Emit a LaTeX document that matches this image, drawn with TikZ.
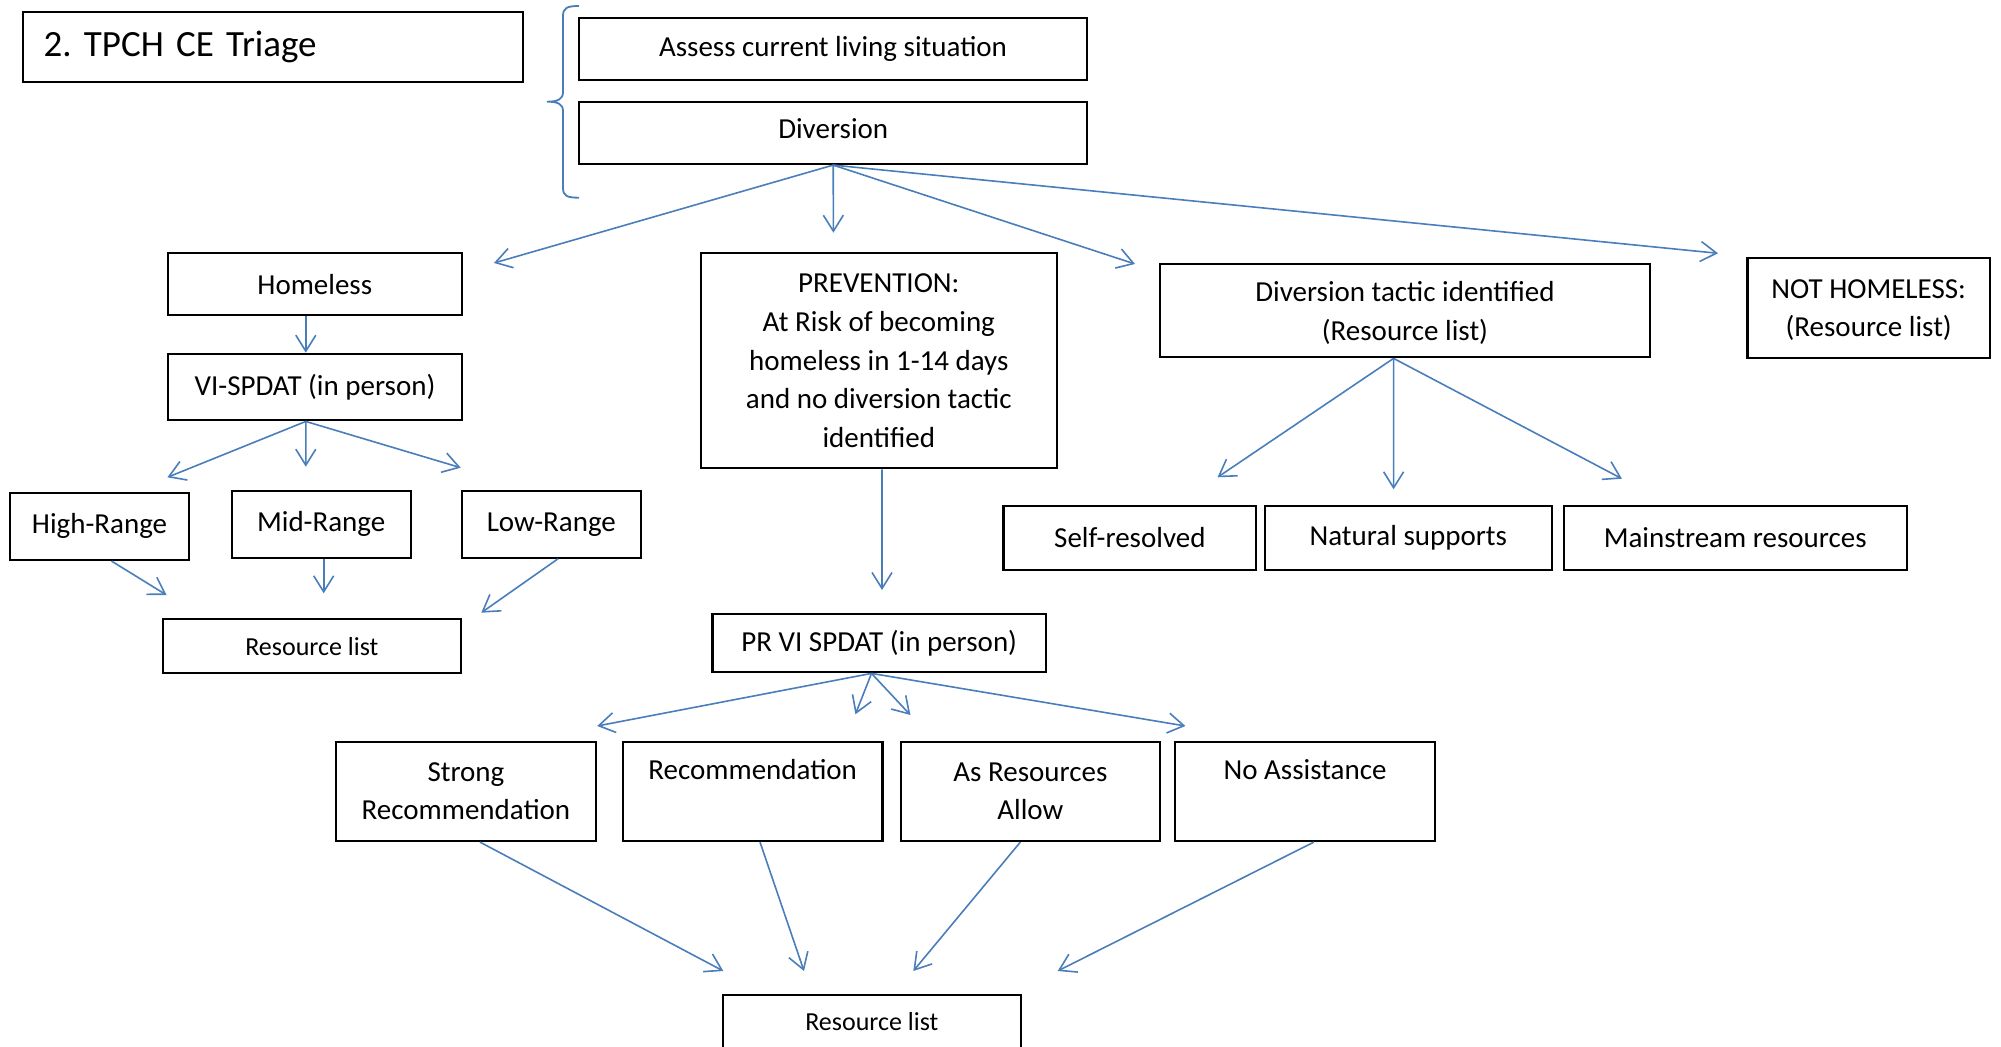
\documentclass[tikz,border=0pt]{standalone}
\usepackage{fontspec}
\setmainfont{Carlito}
\usetikzlibrary{arrows.meta,calc}
\definecolor{lnblue}{HTML}{4A7EBB}
\frenchspacing
\begin{document}
\begin{tikzpicture}[x=0.5pt,y=-0.5pt,
  box/.style={draw=black, line width=1.1pt, inner sep=0pt, align=center,
    font=\fontsize{14.5}{19.3}\selectfont},
  smalltext/.style={font=\fontsize{13}{16}\selectfont},
  conn/.style={draw=lnblue, line width=0.8pt, -{Straight Barb[length=8pt,width=10pt]}},
  bracel/.style={draw=lnblue, line width=0.9pt},
]
\useasboundingbox (0,0) rectangle (2001,1047);
\clip (0,0) rectangle (2001,1047);

% title
\node[box, minimum width=249.8pt, minimum height=35.15pt, text width=229.3pt,
  align=left, inner xsep=10.25pt, font=\fontsize{18.5}{22}\selectfont\frenchspacing]
  (title) at (272.8,46.9) {2. TPCH CE Triage};

% brace
\draw[bracel] (579,6) .. controls (567,6) and (563,8) .. (563,16) -- (563,92)
  .. controls (563,99) and (558,101.7) .. (547,101.7)
  .. controls (558,101.7) and (563,104) .. (563,111) -- (563,188)
  .. controls (563,196) and (567,197.7) .. (579,197.7);

% top boxes
\node[box, minimum width=254pt, minimum height=31.15pt] (assess) at (833,48.85) {Assess current living situation};
\node[box, minimum width=254pt, minimum height=31.15pt, text depth=4pt] (diversion) at (833.2,132.85) {Diversion};

% left branch
\node[box, minimum width=146.8pt, minimum height=31pt] (homeless) at (314.8,284.3) {Homeless};
\node[box, minimum width=146.65pt, minimum height=33.15pt] (vispdat) at (315,387.2) {VI-SPDAT (in person)};
\node[box, minimum width=89.75pt, minimum height=33.65pt] (high) at (99.55,526.35) {High-Range};
\node[box, minimum width=89.5pt, minimum height=33.5pt] (mid) at (321.2,524.2) {Mid-Range};
\node[box, minimum width=89.7pt, minimum height=33.5pt] (low) at (551.3,524.2) {Low-Range};
\node[box, smalltext, minimum width=148.85pt, minimum height=27.15pt] (resA) at (311.85,646.15) {Resource list};

% prevention branch
\node[box, minimum width=177.8pt, minimum height=107.5pt] (prev) at (878.8,360.8)
  {PREVENTION:\\At Risk of becoming\\homeless in 1-14 days\\and no diversion tactic\\identified};
\node[box, minimum width=166.8pt, minimum height=29.15pt] (prvi) at (879.2,643.15) {PR VI SPDAT (in person)};
\node[box, minimum width=129.85pt, minimum height=49.65pt] (strong) at (465.95,791.35) {Strong\\Recommendation};
\node[box, minimum width=129.8pt, minimum height=49.65pt] (recom) at (752.7,791.35) {Recommendation\\\vphantom{Ag}};
\node[box, minimum width=129.45pt, minimum height=49.65pt] (asres) at (1030.35,791.35) {As Resources\\Allow};
\node[box, minimum width=129.8pt, minimum height=49.65pt] (noassist) at (1305,791.35) {No Assistance\\\vphantom{Ag}};
\node[box, smalltext, minimum width=149.15pt, minimum height=27pt] (resB) at (871.85,1022) {Resource list};

% diversion tactic branch
\node[box, minimum width=244.75pt, minimum height=46.65pt] (tactic) at (1404.95,310.65) {\vphantom{Ag}\\[-16pt]Diversion tactic identified\\(Resource list)};
\node[box, minimum width=121.3pt, minimum height=49.7pt] (nothome) at (1868.7,308) {\vphantom{Ag}\\[-17pt]NOT HOMELESS:\\(Resource list)};
\node[box, minimum width=126.35pt, minimum height=32.15pt] (selfres) at (1129.85,537.85) {Self-resolved};
\node[box, minimum width=143.6pt, minimum height=32.15pt] (natural) at (1408.3,537.85) {Natural supports};
\node[box, minimum width=171.45pt, minimum height=32.15pt] (mainstream) at (1735.15,537.85) {Mainstream resources};

% arrow end points
\coordinate (tHome) at (494,263);
\coordinate (tPrev) at (833.4,232.7);
\coordinate (tTactic) at (1135,264);
\coordinate (tNot) at (1718,253.3);
\coordinate (tVi) at (305.8,352.7);
\coordinate (tHigh) at (167.4,477.3);
\coordinate (tMid) at (305.8,466.7);
\coordinate (tLow) at (460.7,467.7);
\coordinate (tRA1) at (166.5,595);
\coordinate (tRA2) at (323.7,593.3);
\coordinate (tRA3) at (481.3,612.7);
\coordinate (tPr) at (882,590);
\coordinate (tSelf) at (1217.5,477.3);
\coordinate (tNat) at (1393.6,489.3);
\coordinate (tMain) at (1621.9,478.7);
\coordinate (tS1) at (597.2,726);
\coordinate (tS2) at (855.4,714.3);
\coordinate (tS3) at (910.4,715);
\coordinate (tS4) at (1185.4,726);
\coordinate (tB1) at (723.3,971);
\coordinate (tB2) at (804,971);
\coordinate (tB3) at (913.3,971);
\coordinate (tB4) at (1057.7,971);

% connectors
\draw[conn] (diversion.south) -- (tHome);
\draw[conn] (diversion.south) -- (tPrev);
\draw[conn] (diversion.south) -- (tTactic);
\draw[conn] (diversion.south) -- (tNot);

\draw[conn] ($(homeless.south)+(-9,0)$) -- (tVi);
\draw[conn] ($(vispdat.south)+(-9.2,0)$) -- (tHigh);
\draw[conn] ($(vispdat.south)+(-9.2,0)$) -- (tMid);
\draw[conn] ($(vispdat.south)+(-9.2,0)$) -- (tLow);
\draw[conn] ($(high.south)+(12,0)$) -- (tRA1);
\draw[conn] ($(mid.south)+(2.5,0)$) -- (tRA2);
\draw[conn] ($(low.south)+(6.7,0)$) -- (tRA3);

\draw[conn] ($(prev.south)+(3.2,0)$) -- (tPr);
\draw[conn] ($(prvi.south)+(-7.7,0)$) -- (tS1);
\draw[conn] ($(prvi.south)+(-7.7,0)$) -- (tS2);
\draw[conn] ($(prvi.south)+(-7.7,0)$) -- (tS3);
\draw[conn] ($(prvi.south)+(-7.7,0)$) -- (tS4);
\draw[conn] ($(strong.south)+(14,0)$) -- (tB1);
\draw[conn] ($(recom.south)+(7.3,0)$) -- (tB2);
\draw[conn] ($(asres.south)+(-10,0)$) -- (tB3);
\draw[conn] ($(noassist.south)+(8.8,0)$) -- (tB4);

\draw[conn] ($(tactic.south)+(-11.4,0)$) -- (tSelf);
\draw[conn] ($(tactic.south)+(-11.4,0)$) -- (tNat);
\draw[conn] ($(tactic.south)+(-11.4,0)$) -- (tMain);
\end{tikzpicture}
\end{document}
